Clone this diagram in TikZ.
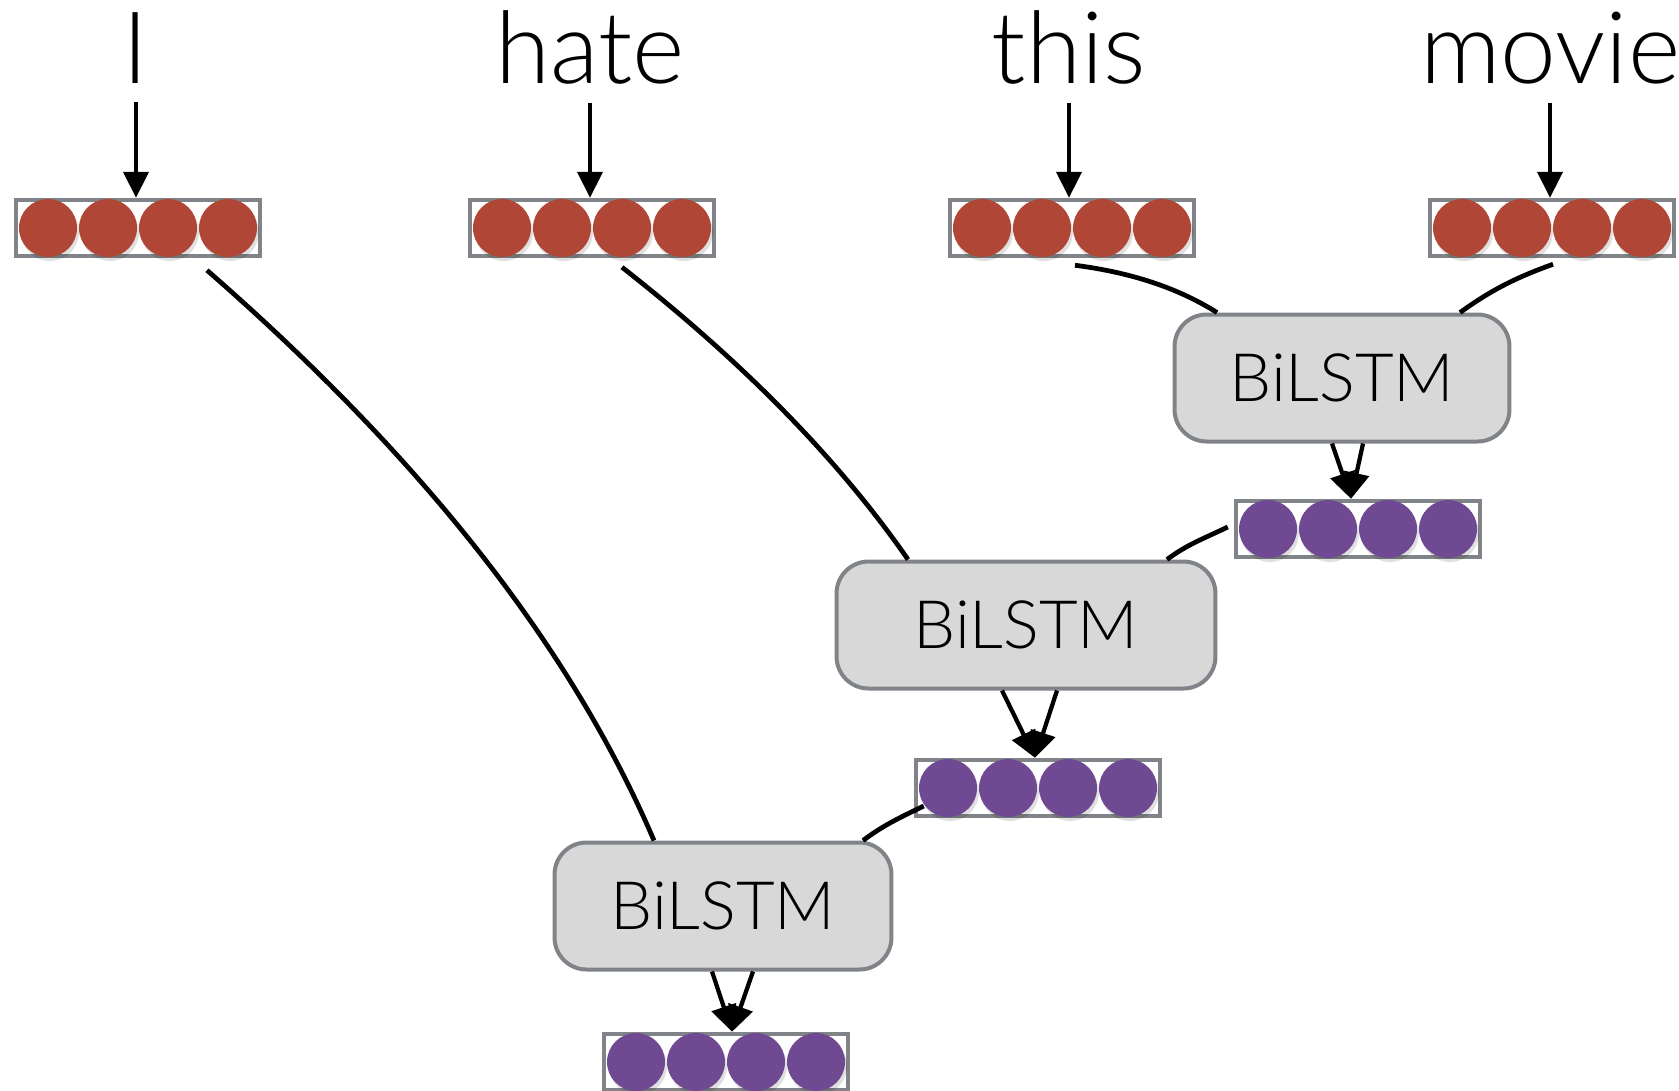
\documentclass[tikz,border=0pt]{standalone}
\usepackage{fontspec}
\IfFontExistsTF{Lato Light}{\setmainfont{Lato Light}}{\setmainfont{TeX Gyre Heros}}
\usetikzlibrary{calc,positioning,arrows.meta}
\definecolor{vecred}{RGB}{176,70,53}
\definecolor{vecpurple}{RGB}{111,74,147}
\definecolor{framegray}{RGB}{128,131,135}
\definecolor{lstmfill}{RGB}{216,216,216}
\tikzset{
  >={Triangle[length=0.52cm,width=0.5cm]},
  word/.style={font=\fontsize{57}{64}\selectfont, anchor=base, inner xsep=0, inner ysep=0.38cm},
  vecbox/.style={draw=framegray, line width=0.09cm, fill=white, minimum width=4.88cm,
                 minimum height=1.12cm, inner sep=0},
  lstm/.style={draw=framegray, fill=lstmfill, line width=0.08cm, rounded corners=0.64cm,
               minimum height=2.54cm, inner sep=0, font=\fontsize{38}{44}\selectfont},
  conn/.style={line width=0.095cm},
  arr/.style={line width=0.085cm, ->}
}
% one embedding vector: name, x, y, colour
\newcommand{\embvec}[4]{%
  \node[vecbox] (#1) at (#2,#3) {};
  \foreach \k in {-90,-30,30,90} {
    \fill[black, opacity=0.12] ($(#1)+(\k+2,4)$) circle (29);
    \fill[#4] ($(#1)+(\k,0)$) circle (29);
  }
}

\begin{document}
\begin{tikzpicture}[x=0.02cm, y=-0.02cm]
\useasboundingbox (0,0) rectangle (1679,1090);

% words
\node[word] (wI) at (136,83) {I};
\node[word] (whate) at (590,83) {hate};
\node[word] (wthis) at (1069,83) {this};
\node[word] (wmovie) at (1550,83) {movie};

% word vectors
\embvec{vI}{138}{228}{vecred}
\embvec{vhate}{592}{228}{vecred}
\embvec{vthis}{1072}{228}{vecred}
\embvec{vmovie}{1552}{228}{vecred}

\foreach \w in {I,hate,this,movie}
  \draw[arr] (w\w.south) -- (w\w.south |- v\w.north);

% BiLSTM cells
\node[lstm, minimum width=6.7cm] (b1) at (1342,378) {BiLSTM};
\node[lstm, minimum width=7.58cm] (b2) at (1026,625) {BiLSTM};
\node[lstm, minimum width=6.74cm] (b3) at (723,906) {BiLSTM};

% hidden vectors
\embvec{p1}{1358}{529}{vecpurple}
\embvec{p2}{1038}{788}{vecpurple}
\embvec{p3}{726}{1062}{vecpurple}

% inputs into the cells
\draw[conn] ($(vthis.south)+(3,7)$) .. controls +(62,8) and +(-35,-22) .. ($(b1.north)+(-125,0)$);
\draw[conn] ($(vmovie.south)+(1,6)$) .. controls +(-42,15) and +(28,-20) .. ($(b1.north)+(118,0)$);
\draw[conn] ($(vhate.south)+(30,9)$) .. controls +(106,83) and +(-77,-111) .. ($(b2.north)+(-118,0)$);
\draw[conn] ($(p1.west)+(-6,-2)$) .. controls +(-25,12) and +(20,-15) .. ($(b2.north)+(141,0)$);
\draw[conn] ($(vI.south)+(69,12)$) .. controls +(181,158) and +(-95,-222) .. ($(b3.north)+(-69,0)$);
\draw[conn] ($(p2.west)+(10,18)$) .. controls +(-25,12) and +(20,-15) .. ($(b3.north)+(140,0)$);

% outputs
\draw[arr] ($(b1.south)+(-10,0)$) -- ($(p1.north)+(-7,0)$);
\draw[arr] ($(b1.south)+(21,0)$) -- ($(p1.north)+(-7,0)$);
\draw[arr] ($(b2.south)+(-24,0)$) -- ($(p2.north)+(-3,0)$);
\draw[arr] ($(b2.south)+(31,0)$) -- ($(p2.north)+(-3,0)$);
\draw[arr] ($(b3.south)+(-11,0)$) -- ($(p3.north)+(6,0)$);
\draw[arr] ($(b3.south)+(30,0)$) -- ($(p3.north)+(6,0)$);
\end{tikzpicture}
\end{document}
